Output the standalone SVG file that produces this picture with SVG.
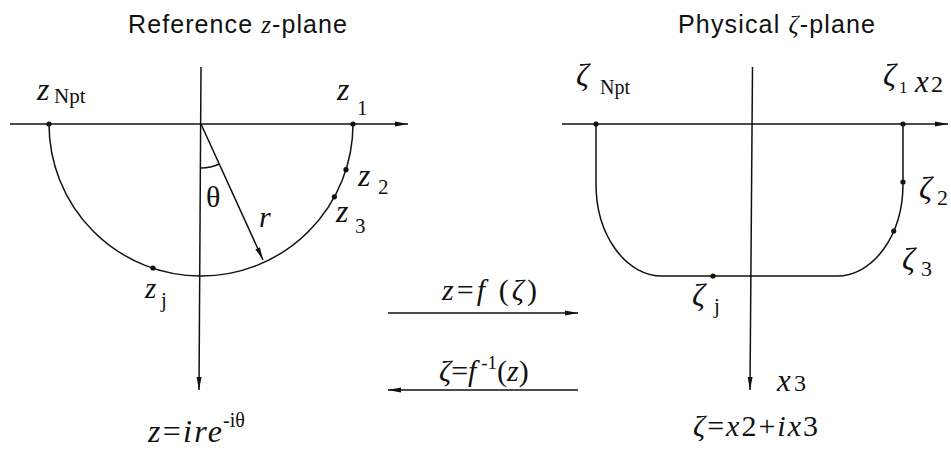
<svg xmlns="http://www.w3.org/2000/svg" width="951" height="450" viewBox="0 0 951 450">
<style>
.ln{stroke:#111;stroke-width:1.5;fill:none}
.dot{fill:#111}
.it{font-family:"Liberation Serif","Times New Roman",serif;font-style:italic;fill:#111}
.rm{font-family:"Liberation Serif","Times New Roman",serif;font-style:normal;fill:#111}
.sans{font-family:"Liberation Sans",Arial,sans-serif;fill:#111}
.zl{font-size:32px}
.zt{font-size:32px}
</style>
<defs>
<marker id="ah" markerUnits="userSpaceOnUse" markerWidth="14" markerHeight="6" refX="13" refY="3" orient="auto">
<path d="M0,0.5 L13,3 L0,5.5 Z" fill="#111"/>
</marker>
</defs>
<rect width="951" height="450" fill="#fff"/>

<g id="title-z">
<text class="sans" x="128" y="33" font-size="25" textLength="219" lengthAdjust="spacing">Reference <tspan class="it" font-family="Liberation Serif">z</tspan>-plane</text>
</g>
<g id="title-zeta">
<text class="sans" x="678" y="33" font-size="25" textLength="197" lengthAdjust="spacing">Physical <tspan class="it" font-family="Liberation Serif">ζ</tspan>-plane</text>
</g>

<g id="z-plane">
<line class="ln" x1="10" y1="124" x2="408" y2="124" marker-end="url(#ah)"/>
<line class="ln" x1="201" y1="67" x2="199" y2="390" marker-end="url(#ah)"/>
<path class="ln" d="M49,124 A152,152 0 0 0 353,124"/>
<line class="ln" x1="201" y1="124" x2="263" y2="260" marker-end="url(#ah)"/>
<path class="ln" d="M201,168 A44,44 0 0 0 219.2,164"/>
<text class="rm" x="206" y="207" font-size="30">θ</text>
<text class="it" x="259" y="227" font-size="30">r</text>
</g>

<g id="z-Npt"><circle class="dot" cx="49" cy="124" r="2.6"/>
<text class="it zl" x="37" y="100">z</text><text class="rm" x="54" y="103" font-size="21">Npt</text></g>
<g id="z-1"><circle class="dot" cx="353" cy="124" r="2.6"/>
<text class="it zl" x="337" y="100">z</text><text class="rm" x="357" y="115" font-size="21">1</text></g>
<g id="z-2"><circle class="dot" cx="346" cy="169.7" r="2.6"/>
<text class="it zl" x="358" y="186">z</text><text class="rm" x="378" y="194" font-size="21">2</text></g>
<g id="z-3"><circle class="dot" cx="334.4" cy="196.8" r="2.6"/>
<text class="it zl" x="336" y="222">z</text><text class="rm" x="355" y="233" font-size="21">3</text></g>
<g id="z-j"><circle class="dot" cx="153" cy="268" r="2.6"/>
<text class="it" x="145" y="298" font-size="29">z</text><text class="rm" x="161" y="307" font-size="21">j</text></g>
<g id="z-formula">
<text class="it" x="148" y="442" font-size="32" textLength="74" lengthAdjust="spacing">z<tspan class="rm">=</tspan>ire</text>
<text class="rm" x="223" y="427" font-size="20">-iθ</text>
</g>

<g id="zeta-plane">
<line class="ln" x1="562" y1="124" x2="948" y2="124" marker-end="url(#ah)"/>
<line class="ln" x1="752.5" y1="67" x2="750" y2="390" marker-end="url(#ah)"/>
<path class="ln" d="M596,124 V184 A66,92 0 0 0 662,276 H837 A66,92 0 0 0 903,184 V124"/>
<text class="it" x="915" y="92" font-size="31">x</text><text class="rm" x="931" y="92" font-size="24">2</text>
<text class="it" x="777" y="391" font-size="31">x</text><text class="rm" x="794" y="391" font-size="24">3</text>
</g>

<g id="zeta-Npt"><circle class="dot" cx="596" cy="124" r="2.6"/>
<text class="it zt" x="576" y="86">ζ</text><text class="rm" x="600" y="94" font-size="20">Npt</text></g>
<g id="zeta-1"><circle class="dot" cx="903" cy="124" r="2.6"/>
<text class="it zt" x="883" y="86">ζ</text><text class="rm" x="899" y="93" font-size="17">1</text></g>
<g id="zeta-2"><circle class="dot" cx="903" cy="182" r="2.6"/>
<text class="it zt" x="919" y="199">ζ</text><text class="rm" x="937" y="205" font-size="22">2</text></g>
<g id="zeta-3"><circle class="dot" cx="893.7" cy="231" r="2.6"/>
<text class="it zt" x="902" y="270">ζ</text><text class="rm" x="921" y="276" font-size="22">3</text></g>
<g id="zeta-j"><circle class="dot" cx="713" cy="276" r="2.6"/>
<text class="it zt" x="692" y="306">ζ</text><text class="rm" x="714" y="313" font-size="21">j</text></g>
<g id="zeta-formula">
<text class="it" x="693" y="436" font-size="30" textLength="125" lengthAdjust="spacing">ζ<tspan class="rm">=</tspan>x<tspan class="rm">2+</tspan>ix<tspan class="rm">3</tspan></text>
</g>

<g id="connectors">
<line class="ln" x1="388" y1="313" x2="578" y2="313" marker-end="url(#ah)"/>
<line class="ln" x1="578" y1="390" x2="388" y2="390" marker-end="url(#ah)"/>
<text class="it" x="442" y="300" font-size="30" textLength="95" lengthAdjust="spacing">z<tspan class="rm">=</tspan>f<tspan class="rm"> (</tspan>ζ<tspan class="rm">)</tspan></text>
<text class="it" x="439" y="381" font-size="30">ζ<tspan class="rm">=</tspan>f<tspan class="rm" font-size="19" dy="-12"> -1</tspan><tspan class="rm" dy="12">(</tspan>z<tspan class="rm">)</tspan></text>
</g>
</svg>
